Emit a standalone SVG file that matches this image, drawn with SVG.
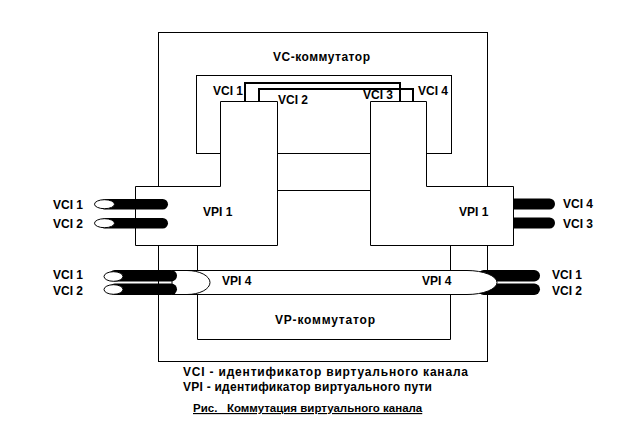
<svg xmlns="http://www.w3.org/2000/svg" width="640" height="442" viewBox="0 0 640 442">
<style>
.t{font-family:"Liberation Sans",Arial,sans-serif;font-weight:bold;font-size:12px;fill:#000}
.ln{fill:none;stroke:#000;stroke-width:1}
.wire{fill:none;stroke:#000;stroke-width:2}
.blk{fill:#fff;stroke:#000;stroke-width:1}
.cord{fill:#000}
.tip{fill:#fff;stroke:#000;stroke-width:1}
</style>
<rect width="640" height="442" fill="#fff"/>
<g id="vc-switch">
<rect class="ln" x="158.5" y="32.5" width="329" height="329"/>
<rect class="ln" x="196.5" y="75.5" width="255" height="78"/>
<text class="t" x="273" y="60.5" textLength="97">VC-коммутатор</text>
</g>
<g id="vp-switch">
<path class="ln" d="M197.5,245 V339.5 H450.5 V245"/>
<text class="t" x="275" y="324" textLength="100">VP-коммутатор</text>
</g>
<g id="connectors">
<path class="ln" d="M277,190.5 H371"/>
<path class="wire" d="M245,102 V83 H400 V102"/>
<path class="wire" d="M259,102 V89 H413 V102"/>
</g>
<g id="right-cords-top">
<rect class="cord" x="505" y="198.5" width="50" height="11" rx="5.5"/>
<rect class="cord" x="505" y="217.5" width="50" height="11" rx="5.5"/>
</g>
<g id="vpi1-left">
<path class="blk" d="M220.5,101.5 H277.5 V245.5 H135.5 V186.5 H220.5 Z"/>
<text class="t" x="203" y="216">VPI 1</text>
</g>
<g id="vpi1-right">
<path class="blk" d="M370.5,101.5 H426.5 V186.5 H513.5 V245.5 H370.5 Z"/>
<text class="t" x="459" y="216">VPI 1</text>
</g>
<g id="left-cords-top">
<rect class="cord" x="100" y="199" width="68" height="10.5" rx="5.25"/>
<ellipse class="tip" cx="104.5" cy="204.2" rx="10" ry="4.5"/>
<rect class="cord" x="100" y="218" width="68" height="10.5" rx="5.25"/>
<ellipse class="tip" cx="104.5" cy="223.2" rx="10" ry="4.5"/>
</g>
<g id="right-cords-bottom">
<rect class="cord" x="478" y="270" width="62" height="11.5" rx="5.75"/>
<rect class="cord" x="478" y="283.5" width="62" height="11.5" rx="5.75"/>
</g>
<g id="vpi4-tube">
<path class="blk" d="M172,270.5 H467 A30,12 0 0 1 467,294.5 H172 Z"/>
<path class="ln" d="M187,270.5 A23,12 0 0 1 187,294.5"/>
<text class="t" x="222" y="284.5">VPI 4</text>
<text class="t" x="422" y="284.5">VPI 4</text>
</g>
<g id="left-cords-bottom">
<rect class="cord" x="109" y="270" width="68" height="11.5" rx="5.75"/>
<ellipse class="tip" cx="113.5" cy="276.5" rx="9.5" ry="4.8"/>
<rect class="cord" x="109" y="283.5" width="68" height="11.5" rx="5.75"/>
<ellipse class="tip" cx="113.5" cy="289.5" rx="9.5" ry="4.8"/>
</g>
<g id="labels">
<text class="t" x="213" y="94.5">VCI 1</text>
<text class="t" x="278" y="104">VCI 2</text>
<text class="t" x="363" y="99">VCI 3</text>
<text class="t" x="418" y="94.5">VCI 4</text>
<text class="t" x="53" y="209">VCI 1</text>
<text class="t" x="53" y="228">VCI 2</text>
<text class="t" x="563" y="208">VCI 4</text>
<text class="t" x="563" y="228">VCI 3</text>
<text class="t" x="53" y="279">VCI 1</text>
<text class="t" x="53" y="295">VCI 2</text>
<text class="t" x="552" y="278.5">VCI 1</text>
<text class="t" x="552" y="295">VCI 2</text>
</g>
<g id="legend">
<text class="t" x="183" y="376" textLength="285">VCI - идентификатор виртуального канала</text>
<text class="t" x="183" y="391" textLength="249">VPI - идентификатор виртуального пути</text>
<text class="t" x="193" y="412" style="font-size:11.5px" text-decoration="underline" xml:space="preserve">Рис.   Коммутация виртуального канала</text>
</g>
</svg>
